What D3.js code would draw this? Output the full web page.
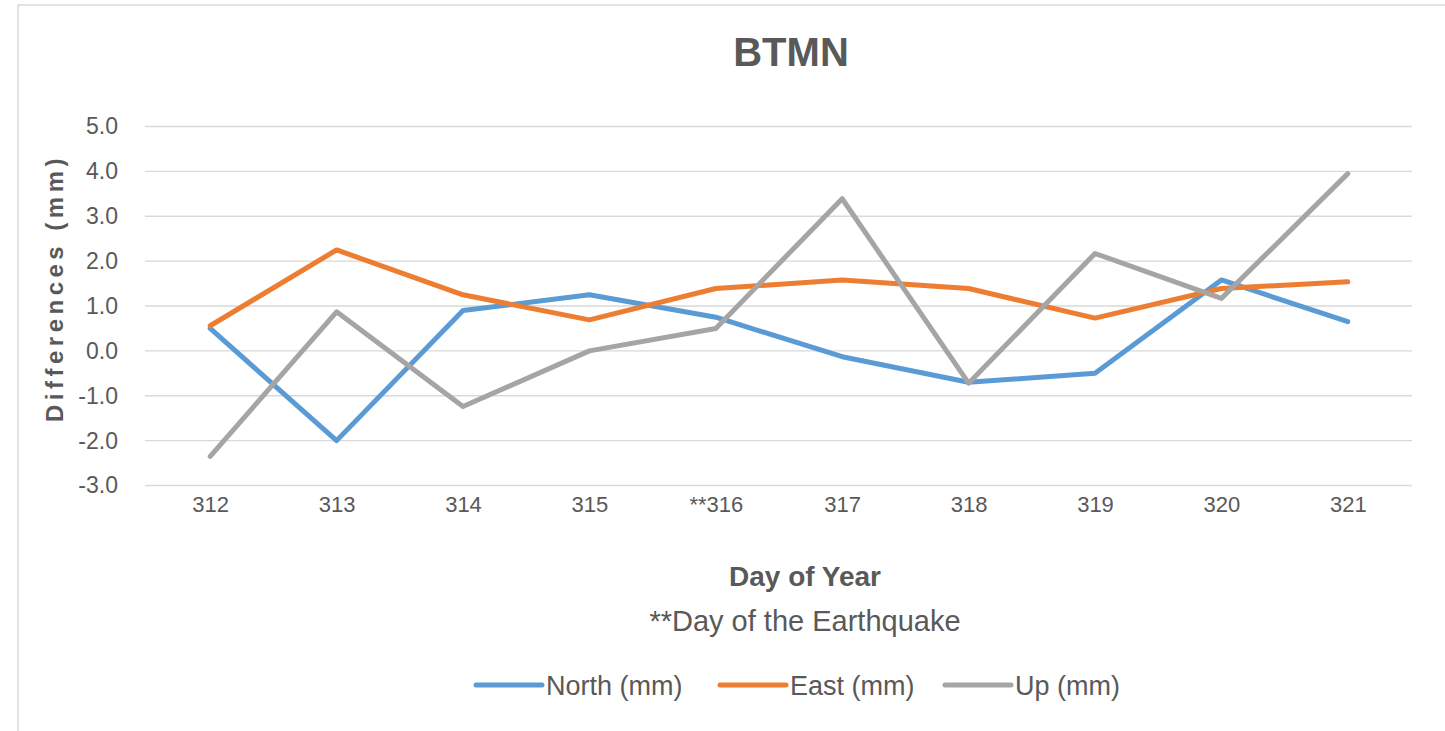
<!DOCTYPE html>
<html><head><meta charset="utf-8">
<script src="https://cdn.jsdelivr.net/npm/d3@7"></script>
<style>
body{margin:0;background:#fff;}
text{font-family:"Liberation Sans",sans-serif;}
</style></head>
<body><svg id="c" width="1445" height="731"></svg>
<script>
const days = ["312","313","314","315","**316","317","318","319","320","321"];
const north = [0.5,-2.0,0.9,1.25,0.75,-0.13,-0.7,-0.5,1.58,0.65];
const east  = [0.56,2.25,1.25,0.69,1.39,1.58,1.39,0.73,1.39,1.54];
const up    = [-2.35,0.87,-1.24,0.0,0.5,3.39,-0.72,2.17,1.17,3.95];
const yTicks = [-3,-2,-1,0,1,2,3,4,5];
const seriesNames = ["North (mm)","East (mm)","Up (mm)"];
const colors = ["#5B9BD5","#ED7D31","#A5A5A5"];
const seriesVals = [north, east, up];

const svg = d3.select("#c");
svg.append("rect").attr("x",18).attr("y",5).attr("width",1440).attr("height",740)
  .attr("fill","#fff").attr("stroke","#d9d9d9").attr("stroke-width",1.5);

const x = d3.scalePoint().domain(days).range([147,1411]).padding(0.5);
const y = d3.scaleLinear().domain([-3,5]).range([485.5,126.5]);

// gridlines
svg.append("g").selectAll("line").data(yTicks).join("line")
  .attr("x1",145).attr("x2",1412).attr("y1",d=>y(d)).attr("y2",d=>y(d))
  .attr("stroke","#d9d9d9").attr("stroke-width",1.3);

// y axis labels
const fmt = d3.format(".1f");
const yAxis = d3.axisLeft(y).tickValues(yTicks).tickFormat(d=>fmt(d).replace("\u2212","-")).tickSize(0).tickPadding(0);
const gy = svg.append("g").attr("transform","translate(118,0)").call(yAxis);
gy.select(".domain").remove();
gy.selectAll("text").attr("font-size",23).attr("fill","#595959")
  .style("font-family",'"Liberation Sans",sans-serif');

// x axis labels
const xAxis = d3.axisBottom(x).tickSize(0).tickPadding(0);
const gx = svg.append("g").attr("transform","translate(0,496)").call(xAxis);
gx.select(".domain").remove();
gx.selectAll("text").attr("font-size",22).attr("fill","#595959")
  .style("font-family",'"Liberation Sans",sans-serif');

// lines
const line = d3.line().x((d,i)=>x(days[i])).y(d=>y(d));
seriesVals.forEach((vals,k)=>{
  svg.append("path").datum(vals).attr("d",line).attr("fill","none")
    .attr("stroke",colors[k]).attr("stroke-width",5).attr("stroke-linejoin","round").attr("stroke-linecap","round");
});

// title
svg.append("text").attr("x",791).attr("y",66).attr("text-anchor","middle")
  .attr("font-size",40).attr("font-weight","bold").attr("fill","#595959").text("BTMN");

// y title
svg.append("text").attr("transform","translate(63,288) rotate(-90)").attr("text-anchor","middle")
  .attr("font-size",24).attr("font-weight","bold").attr("fill","#595959").attr("letter-spacing",4.5)
  .text("Differences (mm)");

// x titles
svg.append("text").attr("x",805).attr("y",586).attr("text-anchor","middle")
  .attr("font-size",28).attr("font-weight","bold").attr("fill","#595959").text("Day of Year");
svg.append("text").attr("x",805).attr("y",631).attr("text-anchor","middle")
  .attr("font-size",29).attr("fill","#595959").text("**Day of the Earthquake");

// legend
const legX = [476,720,945];
const leg = svg.append("g");
seriesNames.forEach((n,k)=>{
  leg.append("line").attr("x1",legX[k]).attr("x2",legX[k]+66).attr("y1",685).attr("y2",685)
    .attr("stroke",colors[k]).attr("stroke-width",5).attr("stroke-linecap","round");
  leg.append("text").attr("x",legX[k]+70).attr("y",695).attr("font-size",27).attr("fill","#595959").text(n);
});
</script></body></html>
